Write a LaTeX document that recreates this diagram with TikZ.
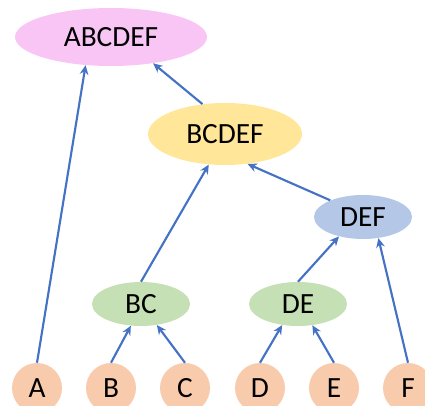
\documentclass[tikz,border=0pt]{standalone}
\usepackage{fontspec}
\setmainfont{Carlito}
\usetikzlibrary{shapes.geometric,arrows.meta}
\definecolor{pinkfill}{HTML}{F8C5F5}
\definecolor{yellowfill}{HTML}{FFE699}
\definecolor{bluefill}{HTML}{B4C7E7}
\definecolor{greenfill}{HTML}{C5E0B4}
\definecolor{leaffill}{HTML}{F8CBAD}
\definecolor{arrowblue}{HTML}{4472C4}
\newcommand{\LeafY}{388}

\begin{document}
\begin{tikzpicture}[x=0.75pt,y=-0.75pt,
  font=\fontsize{22}{26}\selectfont,
  blob/.style={ellipse, inner sep=0pt},
  leaf/.style={circle, fill=leaffill, inner sep=0pt, minimum size=37.5pt},
  link/.style={draw=arrowblue, line width=1.6pt, -{Stealth[length=7pt,width=6.5pt]}}]

\useasboundingbox (0,0) rectangle (425,406);

\node [blob, fill=pinkfill, minimum width=144pt, minimum height=43.5pt] (abcdef) at (111,37) {ABCDEF};
\node [blob, fill=yellowfill, minimum width=115.5pt, minimum height=46.5pt] (bcdef) at (225,134) {BCDEF};
\node [blob, fill=bluefill, minimum width=73.5pt, minimum height=33pt] (def) at (363,217) {DEF};
\node [blob, fill=greenfill, minimum width=73.5pt, minimum height=33pt] (bc) at (141,304) {BC};
\node [blob, fill=greenfill, minimum width=73.5pt, minimum height=33pt] (de) at (298,304) {DE};

% leaves
\node [leaf] (a) at (37,\LeafY) {A};
\node [leaf] (b) at (111,\LeafY) {B};
\node [leaf] (c) at (185,\LeafY) {C};
\node [leaf] (d) at (260,\LeafY) {D};
\node [leaf] (e) at (334,\LeafY) {E};
\node [leaf] (f) at (408,\LeafY) {F};

\draw [link] (a.north) -- (abcdef.228);
\draw [link] (bcdef.127) -- (abcdef.328);
\draw [link] (bc.north) -- (bcdef.242);
\draw [link] (def.153) -- (bcdef.307);
\draw [link] (de.north) -- (def.219);
\draw [link] (f.north) -- (def.306);
\draw [link] (b.north) -- (bc.245);
\draw [link] (c.north) -- (bc.307);
\draw [link] (d.north) -- (de.233);
\draw [link] (e.north) -- (de.304);
\end{tikzpicture}
\end{document}
